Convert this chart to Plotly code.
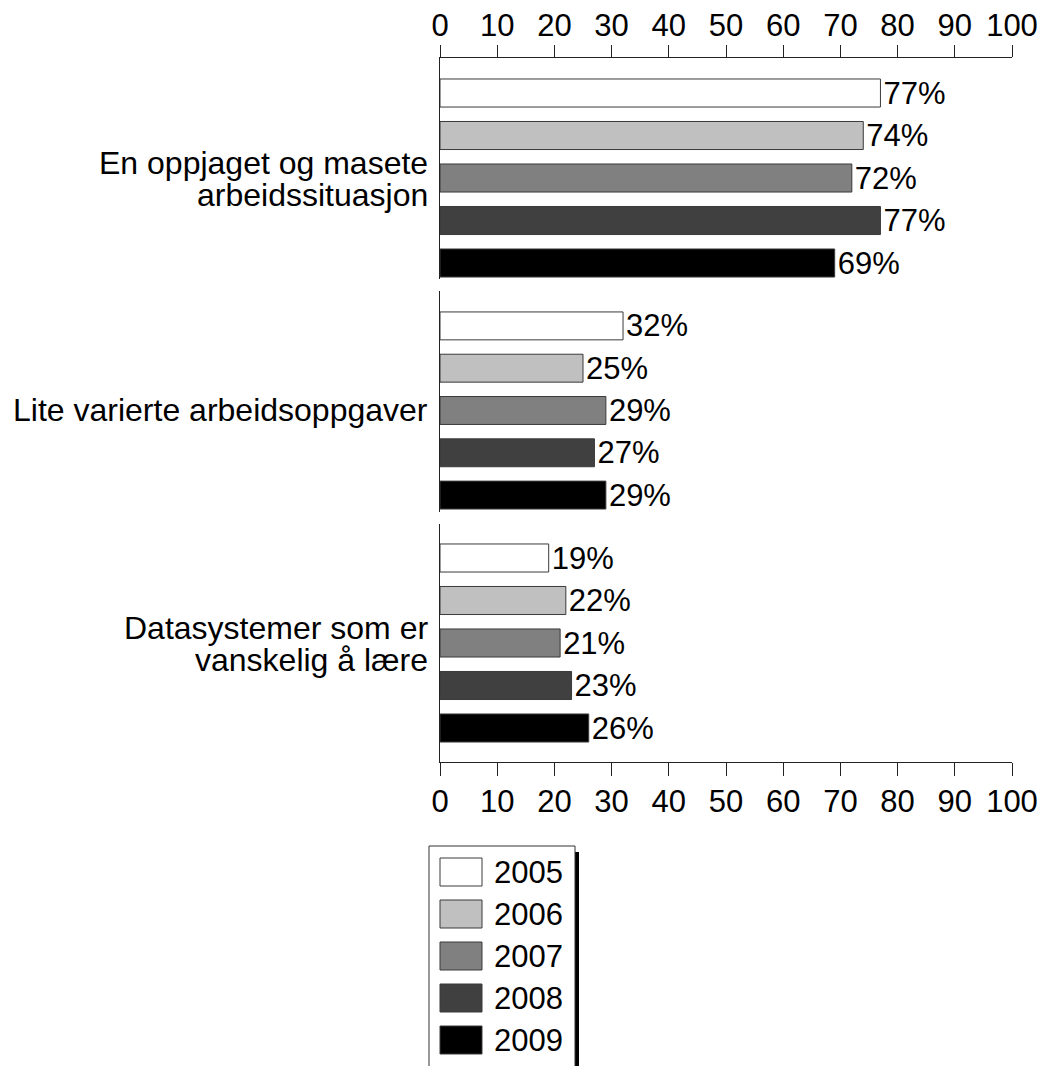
import plotly.graph_objects as go
from plotly.subplots import make_subplots

categories = ["En oppjaget og masete<br>arbeidssituasjon",
              "Lite varierte arbeidsoppgaver",
              "Datasystemer som er<br>vanskelig å lære"]
years = ["2005", "2006", "2007", "2008", "2009"]
values = {
    "2005": [77, 32, 19],
    "2006": [74, 25, 22],
    "2007": [72, 29, 21],
    "2008": [77, 27, 23],
    "2009": [69, 29, 26],
}
colors = {"2005": "#ffffff", "2006": "#c0c0c0", "2007": "#808080",
          "2008": "#404040", "2009": "#000000"}
x_ticks = [0, 10, 20, 30, 40, 50, 60, 70, 80, 90, 100]

W, H = 1042, 1066
FONT = "Liberation Sans, Arial, sans-serif"
FS = 31
FS_CAT = 32

def px_x(p):
    return p / W

def px_y(p):
    return 1 - p / H

fig = make_subplots(rows=3, cols=1)

row_dom = [(58, 279), (291, 512), (524, 762)]
row_rng = [[4.376, -0.824], [4.40, -0.825], [4.8, -0.8]]
label_shift = (15, -17)

annotations = []
for g, cat in enumerate(categories):
    for k, yr in enumerate(years):
        fig.add_trace(go.Bar(
            x=[values[yr][g]], y=[k], orientation="h",
            width=0.66,
            marker=dict(color=colors[yr], line=dict(color="#3a3a3a", width=1)),
            text=[f"{values[yr][g]}%"], textposition="outside",
            constraintext="none", cliponaxis=False,
            textfont=dict(family=FONT, size=FS, color="black"),
            showlegend=False, hoverinfo="skip",
        ), row=g + 1, col=1)
    lines = cat.split("<br>")
    yref = "y" if g == 0 else f"y{g+1}"
    shifts = label_shift if len(lines) == 2 else (0,)
    for line, sh in zip(lines, shifts):
        annotations.append(dict(xref="paper", yref=yref, x=px_x(430), y=2,
                                yshift=sh, text=line, showarrow=False,
                                xanchor="right", yanchor="middle",
                                font=dict(family=FONT, size=FS_CAT, color="black")))

for g in range(3):
    top, bot = row_dom[g]
    yname = "yaxis" if g == 0 else f"yaxis{g+1}"
    xname = "xaxis" if g == 0 else f"xaxis{g+1}"
    fig.layout[yname].update(
        domain=[px_y(bot), px_y(top)], range=row_rng[g], automargin=False,
        showline=True, linecolor="#222", linewidth=1,
        showgrid=False, zeroline=False, ticks="", showticklabels=False,
    )
    xa = dict(domain=[px_x(440), px_x(1012)], range=[0, 100], automargin=False,
              showgrid=False, zeroline=False,
              tickvals=x_ticks,
              tickfont=dict(family=FONT, size=FS, color="black"))
    if g == 0:
        xa.update(side="top", showline=True, linecolor="#222", linewidth=1,
                  ticks="outside", ticklen=12, tickcolor="#222", showticklabels=True,
                  ticklabelstandoff=-3)
    elif g == 2:
        xa.update(side="bottom", showline=True, linecolor="#222", linewidth=1,
                  ticks="outside", ticklen=13, tickcolor="#222", showticklabels=True,
                  ticklabelstandoff=-1)
    else:
        xa.update(showline=False, ticks="", showticklabels=False)
    fig.layout[xname].update(**xa)

# custom legend
shapes = []
shapes.append(dict(type="rect", xref="paper", yref="paper",
                   x0=px_x(575), x1=px_x(579), y0=px_y(1100), y1=px_y(852),
                   fillcolor="black", line=dict(width=0)))
shapes.append(dict(type="rect", xref="paper", yref="paper",
                   x0=px_x(429), x1=px_x(575), y0=px_y(1100), y1=px_y(846),
                   fillcolor="white", line=dict(color="#333", width=1)))
for i, yr in enumerate(years):
    cy = 872 + 42 * i
    shapes.append(dict(type="rect", xref="paper", yref="paper",
                       x0=px_x(440), x1=px_x(482), y0=px_y(cy + 14), y1=px_y(cy - 14),
                       fillcolor=colors[yr], line=dict(color="#3a3a3a", width=1)))
    annotations.append(dict(xref="paper", yref="paper", x=px_x(492), y=px_y(cy),
                            text=yr, showarrow=False, xanchor="left", yanchor="middle",
                            font=dict(family=FONT, size=FS, color="black")))

fig.update_layout(
    template="none",
    width=W, height=H,
    margin=dict(l=0, r=0, t=0, b=0, autoexpand=False),
    paper_bgcolor="white", plot_bgcolor="white",
    barmode="overlay",
    shapes=shapes, annotations=annotations,
    showlegend=False,
)

fig.write_html("out.html", config={"displayModeBar": False},
               post_script="document.body.style.margin='0';document.body.style.overflow='hidden';")
